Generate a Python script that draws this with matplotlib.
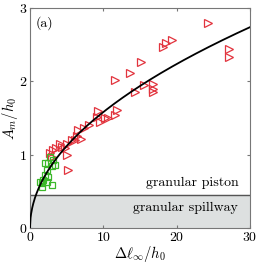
import numpy as np
import matplotlib
matplotlib.use('Agg')
import matplotlib.pyplot as plt

plt.rcParams['font.family'] = 'serif'
plt.rcParams['font.serif'] = ['cmr10', 'DejaVu Serif']
plt.rcParams['mathtext.fontset'] = 'cm'
plt.rcParams['axes.formatter.use_mathtext'] = True

# red triangles
tri_x = [24.3, 18.1, 18.5, 19.3, 27.2, 27.2, 15.2, 13.7, 11.6, 14.3, 15.5, 16.8,
         16.8, 16.8, 11.8, 11.6, 10.7, 10.2, 9.3, 9.1, 9.5, 8.0, 7.3, 6.5, 6.4,
         7.0, 5.7, 5.0, 4.3, 3.6, 5.0, 5.2, 2.7, 3.2, 6.1, 4.1, 4.8, 3.0]
tri_y = [2.80, 2.47, 2.52, 2.57, 2.44, 2.33, 2.27, 2.11, 2.02, 1.85, 1.95, 1.97,
         1.90, 1.85, 1.61, 1.54, 1.50, 1.50, 1.59, 1.52, 1.45, 1.40, 1.36, 1.34, 1.25,
         1.22, 1.20, 1.15, 1.11, 1.09, 1.00, 0.79, 1.02, 1.06, 1.20, 1.15, 1.09, 0.97]

# green squares
sq_x = [1.6, 1.6, 3.0, 2.0, 2.3, 2.0, 2.5, 3.0, 3.2, 2.7, 1.8, 2.3, 1.4, 3.4, 2.5]
sq_y = [0.61, 0.56, 0.59, 0.72, 0.79, 0.88, 0.88, 0.84, 0.93, 0.97, 0.65, 0.63, 0.63, 0.86, 0.70]

# fitted curve A = a * dl^b
fit_a = 0.5
fit_b = 0.5
threshold = 0.45

fig = plt.figure(figsize=(2.66, 2.67), dpi=100)
ax = fig.add_axes([30/266, 39/267, 220/266, 220/267])

ax.axhspan(0, threshold, color='#dde0e0', zorder=0)
ax.axhline(threshold, color='#555555', lw=1.0, zorder=1)

xx = np.linspace(0, 30, 400)
ax.plot(xx, fit_a * xx**fit_b, color='black', lw=1.3, zorder=4)

ax.plot(tri_x, tri_y, linestyle='none', marker='>', markersize=5.5,
        markerfacecolor='none', markeredgecolor='#e2343e', markeredgewidth=0.9, zorder=3)
ax.plot(sq_x, sq_y, linestyle='none', marker='s', markersize=4.5,
        markerfacecolor='none', markeredgecolor='#3cb82a', markeredgewidth=0.9, zorder=3)

ax.text(0.8, 2.79, '(a)', fontsize=10, va='center', ha='left')
ax.text(28.4, 0.61, 'granular piston', fontsize=10, va='center', ha='right')
ax.text(28.4, 0.27, 'granular spillway', fontsize=10, va='center', ha='right')

ax.set_xlim(0, 30)
ax.set_ylim(0, 3)
ax.set_xticks([0, 10, 20, 30])
ax.set_yticks([0, 1, 2, 3])
ax.tick_params(direction='in', top=True, right=True, labelsize=10, length=2.5,
               color='#777777', pad=2)
for s in ax.spines.values():
    s.set_color('#777777')
    s.set_linewidth(0.8)

ax.set_xlabel(r'$\Delta\ell_\infty/h_0$', fontsize=10.5, labelpad=0)
ax.set_ylabel(r'$A_m/h_0$', fontsize=10.5)
ax.yaxis.set_label_coords(-0.045, 0.5)

fig.savefig('out.png', dpi=100)
